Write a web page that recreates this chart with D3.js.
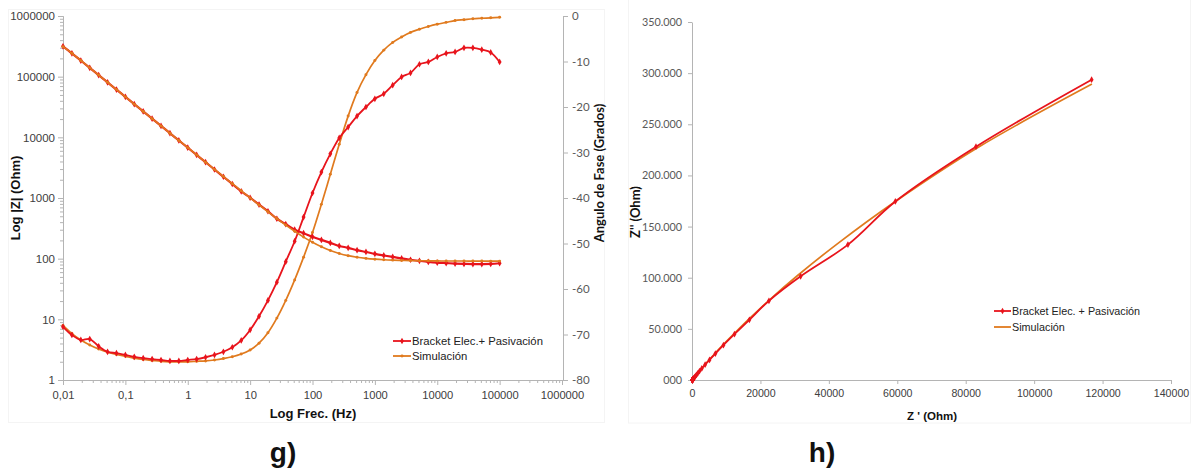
<!DOCTYPE html>
<html>
<head>
<meta charset="utf-8">
<script src="https://cdn.jsdelivr.net/npm/d3@7"></script>
<style>
  body { margin: 0; background: #fff; }
  svg { display: block; }
</style>
</head>
<body>
<svg id="chart" width="1202" height="474"></svg>
<script>
// ---------------- Bode data (frequency sweep, 7 points / decade) ----------------
const freqHz = [
  0.01, 0.01389, 0.01931, 0.02683, 0.03728, 0.05179, 0.07197,
  0.1, 0.1389, 0.1931, 0.2683, 0.3728, 0.5179, 0.7197,
  1, 1.389, 1.931, 2.683, 3.728, 5.179, 7.197,
  10, 13.89, 19.31, 26.83, 37.28, 51.79, 71.97,
  100, 138.9, 193.1, 268.3, 372.8, 517.9, 719.7,
  1000, 1389, 1931, 2683, 3728, 5179, 7197,
  10000, 13895, 19307, 26827, 37276, 51795, 71969,
  100000
];

// |Z| (Ohm) measured: Bracket Elec. + Pasivación
const zModMeasured = [
  316000, 242700, 184400, 140000, 106200, 80600, 61200,
  46450, 35260, 26770, 20320, 15420, 11710, 8890,
  6750, 5120, 3890, 2950, 2240, 1700, 1291,
  1010, 780, 605, 455, 370, 300, 263,
  229, 204, 182, 162, 151, 138, 129,
  120, 113, 107, 101, 96, 92, 88.5,
  86, 84.5, 83, 82, 81.5, 81.5, 82,
  84
];

// |Z| (Ohm) fitted model: Simulación
const zModSimulated = [
  312000, 242700, 184400, 140000, 106200, 80600, 61200,
  46450, 35260, 26770, 20320, 15420, 11710, 8890,
  6750, 5120, 3890, 2960, 2260, 1724, 1315,
  1005, 770, 592, 458, 358, 283, 227,
  186.6, 157.2, 136.3, 122.0, 112.2, 105.6, 101.1,
  98.1, 96.0, 94.6, 93.6, 92.9, 92.4, 92.1,
  91.8, 91.6, 91.4, 91.3, 91.2, 91.2, 91.1,
  91.1
];

// Phase angle (degrees) measured
const phaseMeasured = [
  -68.3, -70.1, -71.2, -71.0, -72.6, -73.8, -74.1,
  -74.5, -74.9, -75.2, -75.4, -75.6, -75.8, -75.8,
  -75.6, -75.4, -75.0, -74.5, -73.8, -72.8, -71.3,
  -69.0, -66.0, -62.5, -58.5, -54.0, -49.5, -44.2,
  -38.9, -34.3, -30.3, -26.8, -24.4, -22.0, -20.0,
  -18.2, -17.1, -15.2, -13.4, -12.5, -10.6, -10.1,
  -9.0, -8.2, -7.9, -7.0, -7.0, -7.4, -8.0,
  -10.1
];

// Phase angle (degrees) fitted model
const phaseSimulated = [
  -68.0, -69.8, -71.2, -72.3, -73.2, -73.9, -74.4,
  -74.8, -75.2, -75.5, -75.7, -75.9, -76.0, -76.0,
  -76.0, -75.9, -75.8, -75.6, -75.3, -74.9, -74.3,
  -73.4, -71.9, -69.6, -66.4, -62.5, -58.0, -53.0,
  -47.6, -41.4, -34.8, -28.2, -22.0, -16.8, -12.9,
  -9.8, -7.5, -5.8, -4.6, -3.6, -2.9, -2.3,
  -1.8, -1.4, -1.0, -0.8, -0.6, -0.5, -0.4,
  -0.3
];

// ---------------- Nyquist data (Ohm) ----------------
const zReMeasured = [
  116800, 83000, 59430, 45580, 31750, 22490, 16770,
  12410, 9185, 6837, 5123, 3835, 2872, 2181,
  1679, 1291, 1007, 788, 625, 503, 414,
  362, 317, 279, 238, 217, 195, 189,
  178, 169, 157, 145, 138, 128, 121,
  114, 108, 103, 98, 94, 90, 87,
  85, 84, 82, 81, 81, 81, 81,
  83
];
const zImMeasured = [
  293600, 228100, 174550, 132370, 101340, 77400, 58860,
  44760, 34040, 25880, 19660, 14940, 11350, 8618,
  6538, 4955, 3757, 2843, 2151, 1624, 1223,
  943, 713, 537, 388, 299, 228, 183,
  144, 115, 92, 73, 62, 52, 44,
  37, 33, 28, 23, 21, 17, 15,
  13, 12, 11, 10, 10, 10, 11,
  15
];
const zReSimulated = [
  116900, 83800, 59430, 42560, 30690, 22350, 16460,
  12180, 9006, 6703, 5019, 3756, 2833, 2151,
  1633, 1247, 954, 734, 568, 449, 356,
  285, 244, 214, 195, 171, 150, 136,
  126, 118, 112, 108, 104, 101, 98,
  97, 95, 94, 93, 93, 92, 92,
  92, 92, 91, 91, 91, 91, 91,
  91
];
const zImSimulated = [
  289300, 227800, 174550, 133380, 101670, 77440, 58950,
  44820, 34090, 25920, 19690, 14960, 11360, 8626,
  6550, 4966, 3771, 2857, 2167, 1664, 1266,
  964, 730, 552, 414, 315, 240, 182,
  138, 104, 78, 58, 42, 31, 23,
  17, 13, 10, 8, 6, 5, 4,
  3, 2, 2, 1, 1, 1, 1,
  0
];

// ---------------- Tick values and labels ----------------
const freqTicks = [0.01, 0.1, 1, 10, 100, 1000, 10000, 100000, 1000000];
const freqTickLabels = ["0,01", "0,1", "1", "10", "100", "1000", "10000", "100000", "1000000"];
const zModTicks = [1, 10, 100, 1000, 10000, 100000, 1000000];
const zModTickLabels = ["1", "10", "100", "1000", "10000", "100000", "1000000"];
const phaseTicks = [0, -10, -20, -30, -40, -50, -60, -70, -80];
const phaseTickLabels = ["0", "-10", "-20", "-30", "-40", "-50", "-60", "-70", "-80"];
const zImTicks = [0, 50000, 100000, 150000, 200000, 250000, 300000, 350000];
const zImTickLabels = ["000", "50.000", "100.000", "150.000", "200.000", "250.000", "300.000", "350.000"];
const zReTicks = [0, 20000, 40000, 60000, 80000, 100000, 120000, 140000];
const zReTickLabels = ["0", "20000", "40000", "60000", "80000", "100000", "120000", "140000"];

const seriesNames = ["Bracket Elec.+ Pasivación", "Simulación"];
const seriesNamesNyquist = ["Bracket Elec. + Pasivación", "Simulación"];

// ---------------- Styling ----------------
const RED = "#e8141c";
const ORANGE = "#e07a1e";
const AXIS = "#b4b4b4";
const ARIAL = "'Liberation Sans', Arial, sans-serif";
const CALIBRI = "Lato, 'Open Sans', sans-serif";

const svg = d3.select("#chart");
svg.append("rect").attr("width", 1202).attr("height", 474).attr("fill", "#fff");

// faint chart-area frames
svg.append("rect").attr("x", 8.5).attr("y", 9.5).attr("width", 596).attr("height", 413)
  .attr("fill", "none").attr("stroke", "#f4f4f4");
svg.append("rect").attr("x", 628.5).attr("y", -1).attr("width", 562).attr("height", 424)
  .attr("fill", "none").attr("stroke", "#f4f4f4");

function styleAxis(g) {
  g.selectAll(".domain").attr("stroke", AXIS).attr("stroke-width", 1);
  g.selectAll(".tick line").attr("stroke", AXIS).attr("stroke-width", 1);
}

// ================= Bode plot =================
const xF = d3.scaleLog().domain([0.01, 1000000]).range([63, 562]);
const yZ = d3.scaleLog().domain([1, 1000000]).range([380, 16]);
const yP = d3.scaleLinear().domain([-80, 0]).range([380, 16]);

const isMajor = v => Math.abs(Math.log10(v) - Math.round(Math.log10(v))) < 1e-9;

// minor ticks (2..9 per decade)
const gxMinor = svg.append("g").attr("transform", "translate(0,380)")
  .call(d3.axisBottom(xF).tickValues(xF.ticks().filter(v => !isMajor(v))).tickSize(3).tickFormat(""));
styleAxis(gxMinor);
const gyMinor = svg.append("g").attr("transform", "translate(63,0)")
  .call(d3.axisLeft(yZ).tickValues(yZ.ticks().filter(v => !isMajor(v))).tickSize(3).tickFormat(""));
styleAxis(gyMinor);

const gx = svg.append("g").attr("transform", "translate(0,380)")
  .call(d3.axisBottom(xF).tickValues(freqTicks).tickSize(5).tickSizeOuter(0)
    .tickFormat((d, i) => freqTickLabels[i]));
styleAxis(gx);
gx.selectAll("text").attr("font-family", ARIAL).attr("font-size", 11.2).attr("fill", "#404040").attr("dy", "0.95em");

const gy = svg.append("g").attr("transform", "translate(63,0)")
  .call(d3.axisLeft(yZ).tickValues(zModTicks).tickSize(5).tickSizeOuter(0)
    .tickFormat((d, i) => zModTickLabels[i]));
styleAxis(gy);
gy.selectAll("text").attr("font-family", ARIAL).attr("font-size", 11.5).attr("fill", "#404040").attr("x", -8);

const gp = svg.append("g").attr("transform", "translate(563,0)")
  .call(d3.axisRight(yP).tickValues(phaseTicks).tickSize(5).tickSizeOuter(0)
    .tickFormat((d, i) => phaseTickLabels[i]));
styleAxis(gp);
gp.selectAll("text").attr("font-family", CALIBRI).attr("font-size", 11.5).attr("fill", "#595959").attr("x", 9);

// axis titles
svg.append("text").attr("transform", "translate(15,198) rotate(-90)")
  .attr("text-anchor", "middle").attr("dominant-baseline", "central")
  .attr("font-family", ARIAL).attr("font-weight", "bold").attr("font-size", 13).attr("fill", "#111")
  .text("Log |Z| (Ohm)");
svg.append("text").attr("transform", "translate(599,173) rotate(-90)")
  .attr("text-anchor", "middle").attr("dominant-baseline", "central")
  .attr("font-family", CALIBRI).attr("font-weight", "bold").attr("font-size", 13).attr("fill", "#111")
  .text("Angulo de Fase (Grados)");
svg.append("text").attr("x", 313).attr("y", 418)
  .attr("text-anchor", "middle")
  .attr("font-family", ARIAL).attr("font-weight", "bold").attr("font-size", 13).attr("fill", "#111")
  .text("Log Frec. (Hz)");

const smooth = d3.curveCatmullRom.alpha(0.5);
const lineZ = arr => d3.line().curve(smooth).x((d, i) => xF(freqHz[i])).y(d => yZ(d))(arr);
const lineP = arr => d3.line().curve(smooth).x((d, i) => xF(freqHz[i])).y(d => yP(d))(arr);

const diamond = d3.symbol().type(d3.symbolDiamond).size(13);
const dot = d3.symbol().type(d3.symbolCircle).size(7);

function drawSeries(values, yScale, color, width, sym) {
  const path = yScale === yZ ? lineZ(values) : lineP(values);
  svg.append("path").attr("d", path).attr("fill", "none")
    .attr("stroke", color).attr("stroke-width", width).attr("stroke-linejoin", "round");
  svg.append("g").selectAll("path").data(values).join("path")
    .attr("d", sym)
    .attr("transform", (d, i) => `translate(${xF(freqHz[i])},${yScale(d)})`)
    .attr("fill", color);
}

// phase: model under measurement; |Z|: measurement under model
drawSeries(phaseSimulated, yP, ORANGE, 1.7, dot);
drawSeries(phaseMeasured, yP, RED, 1.8, diamond);
drawSeries(zModMeasured, yZ, RED, 2.2, diamond);
drawSeries(zModSimulated, yZ, ORANGE, 1.6, dot);

// legend (Bode)
const legB = svg.append("g").attr("font-family", ARIAL).attr("font-size", 11.3).attr("fill", "#222");
[[RED, diamond, 341], [ORANGE, dot, 356]].forEach(([c, s, y], i) => {
  legB.append("line").attr("x1", 393).attr("x2", 411).attr("y1", y).attr("y2", y)
    .attr("stroke", c).attr("stroke-width", 1.8);
  legB.append("path").attr("d", s).attr("transform", `translate(402,${y})`).attr("fill", c);
  legB.append("text").attr("x", 412).attr("y", y).attr("dominant-baseline", "central").text(seriesNames[i]);
});

// ================= Nyquist plot =================
const xR = d3.scaleLinear().domain([0, 140000]).range([692, 1171]);
const yI = d3.scaleLinear().domain([0, 350000]).range([380, 22]);

const gxr = svg.append("g").attr("transform", "translate(0,380)")
  .call(d3.axisBottom(xR).tickValues(zReTicks).tickSize(4).tickSizeOuter(0)
    .tickFormat((d, i) => zReTickLabels[i]));
styleAxis(gxr);
gxr.selectAll("text").attr("font-family", ARIAL).attr("font-size", 10.6).attr("fill", "#404040").attr("dy", "0.95em");

const gyi = svg.append("g").attr("transform", "translate(692,0)")
  .call(d3.axisLeft(yI).tickValues(zImTicks).tickSize(4).tickSizeOuter(0)
    .tickFormat((d, i) => zImTickLabels[i]));
styleAxis(gyi);
gyi.selectAll("text").attr("font-family", CALIBRI).attr("font-size", 10.8).attr("fill", "#595959").attr("x", -10);

svg.append("text").attr("transform", "translate(635,212) rotate(-90)")
  .attr("text-anchor", "middle").attr("dominant-baseline", "central")
  .attr("font-family", CALIBRI).attr("font-weight", "bold").attr("font-size", 13).attr("fill", "#111")
  .text("Z'' (Ohm)");
svg.append("text").attr("x", 932).attr("y", 420)
  .attr("text-anchor", "middle")
  .attr("font-family", ARIAL).attr("font-weight", "bold").attr("font-size", 11.5).attr("fill", "#111")
  .text("Z ' (Ohm)");

const lineN = (re, im) => d3.line().curve(smooth).x((d, i) => xR(re[i])).y((d, i) => yI(im[i]))(re);

svg.append("path").attr("d", lineN(zReSimulated, zImSimulated)).attr("fill", "none")
  .attr("stroke", ORANGE).attr("stroke-width", 1.7);
svg.append("path").attr("d", lineN(zReMeasured, zImMeasured)).attr("fill", "none")
  .attr("stroke", RED).attr("stroke-width", 1.8);
svg.append("g").selectAll("path").data(zReMeasured).join("path")
  .attr("d", diamond)
  .attr("transform", (d, i) => `translate(${xR(d)},${yI(zImMeasured[i])})`)
  .attr("fill", RED);

// legend (Nyquist)
const legN = svg.append("g").attr("font-family", ARIAL).attr("font-size", 10.8).attr("fill", "#222");
[[RED, true, 311], [ORANGE, false, 327]].forEach(([c, mk, y], i) => {
  legN.append("line").attr("x1", 994).attr("x2", 1011).attr("y1", y).attr("y2", y)
    .attr("stroke", c).attr("stroke-width", 1.8);
  if (mk) legN.append("path").attr("d", diamond).attr("transform", `translate(1002.5,${y})`).attr("fill", c);
  legN.append("text").attr("x", 1012).attr("y", y).attr("dominant-baseline", "central").text(seriesNamesNyquist[i]);
});

// panel letters
svg.append("text").attr("x", 283).attr("y", 462).attr("text-anchor", "middle")
  .attr("font-family", ARIAL).attr("font-weight", "bold").attr("font-size", 28).attr("fill", "#111").text("g)");
svg.append("text").attr("x", 822).attr("y", 462).attr("text-anchor", "middle")
  .attr("font-family", ARIAL).attr("font-weight", "bold").attr("font-size", 28).attr("fill", "#111").text("h)");
</script>
</body>
</html>
